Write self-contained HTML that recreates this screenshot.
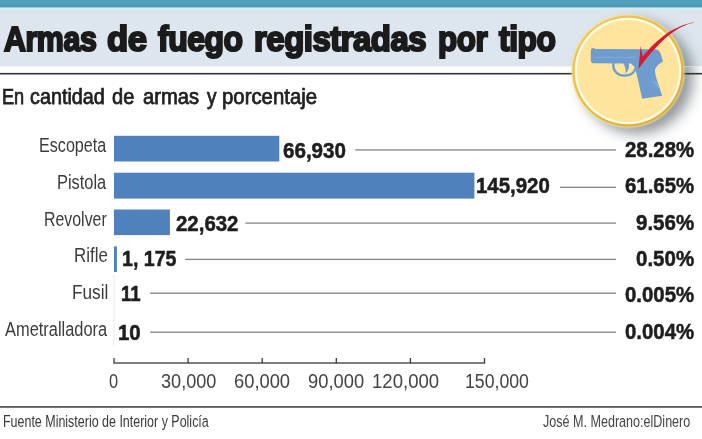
<!DOCTYPE html>
<html><head><meta charset="utf-8"><title>Armas de fuego registradas por tipo</title>
<style>
html,body{margin:0;padding:0;background:#fff;}
body{width:702px;height:439px;position:relative;overflow:hidden;font-family:"Liberation Sans",sans-serif;}
.t{position:absolute;white-space:nowrap;transform-origin:0 0;font-family:"Liberation Sans",sans-serif;}
.teal{position:absolute;left:0;top:0;width:702px;height:7px;background:linear-gradient(#4f9fbf,#4f9ebc 60%,#5296ad);}
.band{position:absolute;left:0;top:7px;width:702px;height:59px;background:#dde6ee;}
.band:before{content:"";position:absolute;left:0;top:0;width:100%;height:3px;background:linear-gradient(#6fabc2,#a6d3e4 20%,#cfeffa 42%,#d6ebf4 75%,#dde6ee);}
svg{position:absolute;left:0;top:0;}

</style></head><body>
<div class="teal"></div>
<div class="band"></div>
<svg width="702" height="439" viewBox="0 0 702 439">
<defs>
<filter id="sh" x="-40%" y="-40%" width="180%" height="180%"><feGaussianBlur stdDeviation="7"/></filter>
<filter id="gl" x="-10%" y="-10%" width="120%" height="120%"><feGaussianBlur stdDeviation="0.8"/></filter>
<linearGradient id="gd" x1="0.15" y1="0.15" x2="0.85" y2="0.85"><stop offset="0" stop-color="#f0c84c"/><stop offset="1" stop-color="#e1ae2c"/></linearGradient>
</defs>
<circle cx="637" cy="77.5" r="56" fill="#454d55" opacity="0.6" filter="url(#sh)"/>
<rect x="0" y="66" width="702" height="0.5" fill="#dde6ee"/>
<rect x="0" y="72.9" width="702" height="1.6" fill="#333"/>
<rect x="0" y="406.1" width="702" height="1.6" fill="#444"/>
<rect x="113.5" y="274" width="1" height="72" fill="#ebebeb"/>
<rect x="114.0" y="135.8" width="165.3" height="25.7" fill="#4f81bd"/>
<rect x="114.0" y="172.7" width="360.4" height="25.9" fill="#4f81bd"/>
<rect x="114.0" y="209.5" width="55.9" height="25.6" fill="#4f81bd"/>
<rect x="114.0" y="246.4" width="2.9" height="25.6" fill="#4f81bd"/>
<rect x="355.3" y="149.25" width="260.7" height="1.3" fill="#858585"/>
<rect x="560.0" y="186.65" width="56.0" height="1.3" fill="#858585"/>
<rect x="245.4" y="222.45" width="370.6" height="1.3" fill="#858585"/>
<rect x="185.2" y="258.75" width="430.8" height="1.3" fill="#858585"/>
<rect x="150.1" y="292.55" width="465.9" height="1.3" fill="#858585"/>
<rect x="150.1" y="331.55" width="465.9" height="1.3" fill="#858585"/>
<rect x="113.3" y="362.35" width="371.9" height="1.3" fill="#3a3a3a"/>
<rect x="113.35" y="358" width="1.3" height="5" fill="#3a3a3a"/>
<rect x="187.45" y="358" width="1.3" height="5" fill="#3a3a3a"/>
<rect x="261.55" y="358" width="1.3" height="5" fill="#3a3a3a"/>
<rect x="335.65" y="358" width="1.3" height="5" fill="#3a3a3a"/>
<rect x="409.75" y="358" width="1.3" height="5" fill="#3a3a3a"/>
<rect x="483.85" y="358" width="1.3" height="5" fill="#3a3a3a"/>
<circle cx="628" cy="71" r="56.4" fill="#f6e3a0" filter="url(#gl)"/>
<circle cx="628" cy="71" r="55.6" fill="url(#gd)"/>
<circle cx="628" cy="71" r="53.3" fill="#fffaea"/>
<circle cx="628" cy="71" r="51" fill="#fee49c"/>
<path d="M590.8 50.6 L591.3 48.4 L594.2 48 L595 49 L655.5 49.2 Q659.2 49.8 660.6 53.5 L663 61.4 Q657 64.5 654.9 69.5 Q655 74 656.6 79 L662.2 95.8 L642.2 98.8 L640 89 Q637.5 77 635.5 70 L634.2 66.5 L631 63.4 L592.8 63.2 Q590.8 62.6 590.8 60.8 Z" fill="#6e9cce"/>
<path d="M613.4 63 C612.6 70.5 617 75.6 624 75.6 C630.5 75.6 634.5 72.5 635.8 68" fill="none" stroke="#6e9cce" stroke-width="2.3"/>
<path d="M623.2 63 L628.6 63 C629.8 66.8 628.6 70.6 625.6 73.4 C626 69.5 625.2 66.3 623.2 63 Z" fill="#6e9cce"/>
<path d="M596 57.3 L636 57.3" stroke="#86aedb" stroke-width="0.8" fill="none"/>
<path d="M651 81.5 Q656.5 84 660.2 91.5 L657.2 81.5 Z" fill="#83aad8"/>
<path d="M640.7 46 L642.7 56.4 C644.2 54.7 648.5 49.5 651.8 46.2 C655.1 42.9 659.0 39.5 662.6 36.7 C666.2 33.9 669.7 31.7 673.4 29.6 C677.1 27.6 681.5 25.6 685.0 24.4 C688.5 23.2 692.7 22.6 694.2 22.2 L694.2 22.4 C693.0 22.8 690.1 23.3 687.0 24.6 C683.9 25.9 679.3 28.1 675.8 30.3 C672.3 32.5 669.3 34.8 666.1 37.6 C662.9 40.4 659.6 43.7 656.5 47.0 C653.4 50.3 650.2 53.8 647.2 57.4 C644.2 61.0 640.0 66.9 638.5 68.8 Z" fill="#d91832"/>
</svg>

<div class="t" style="left:3.98px;top:21.37px;font-size:35px;line-height:35px;font-weight:700;color:#1b1b1b;transform:scaleX(0.8674);-webkit-text-stroke:2.2px #1b1b1b;letter-spacing:-0.5px;">Armas</div>
<div class="t" style="left:107.42px;top:21.37px;font-size:35px;line-height:35px;font-weight:700;color:#1b1b1b;transform:scaleX(0.9888);-webkit-text-stroke:2.2px #1b1b1b;letter-spacing:-0.5px;">de</div>
<div class="t" style="left:158.01px;top:21.37px;font-size:35px;line-height:35px;font-weight:700;color:#1b1b1b;transform:scaleX(0.9128);-webkit-text-stroke:2.2px #1b1b1b;letter-spacing:-0.5px;">fuego</div>
<div class="t" style="left:253.96px;top:21.37px;font-size:35px;line-height:35px;font-weight:700;color:#1b1b1b;transform:scaleX(0.9395);-webkit-text-stroke:2.2px #1b1b1b;letter-spacing:-0.5px;">registradas</div>
<div class="t" style="left:437.51px;top:21.37px;font-size:35px;line-height:35px;font-weight:700;color:#1b1b1b;transform:scaleX(0.8954);-webkit-text-stroke:2.2px #1b1b1b;letter-spacing:-0.5px;">por</div>
<div class="t" style="left:498.50px;top:21.37px;font-size:35px;line-height:35px;font-weight:700;color:#1b1b1b;transform:scaleX(0.9080);-webkit-text-stroke:2.2px #1b1b1b;letter-spacing:-0.5px;">tipo</div>
<div class="t" style="left:2.07px;top:87.30px;font-size:21.5px;line-height:21.5px;font-weight:400;color:#222;transform:scaleX(0.8435);-webkit-text-stroke:0.75px #222;">En</div>
<div class="t" style="left:29.98px;top:87.30px;font-size:21.5px;line-height:21.5px;font-weight:400;color:#222;transform:scaleX(0.9201);-webkit-text-stroke:0.75px #222;">cantidad</div>
<div class="t" style="left:111.98px;top:87.30px;font-size:21.5px;line-height:21.5px;font-weight:400;color:#222;transform:scaleX(0.9308);-webkit-text-stroke:0.75px #222;">de</div>
<div class="t" style="left:142.98px;top:87.30px;font-size:21.5px;line-height:21.5px;font-weight:400;color:#222;transform:scaleX(0.9392);-webkit-text-stroke:0.75px #222;">armas</div>
<div class="t" style="left:206.99px;top:87.30px;font-size:21.5px;line-height:21.5px;font-weight:400;color:#222;transform:scaleX(0.8797);-webkit-text-stroke:0.75px #222;">y</div>
<div class="t" style="left:221.94px;top:87.30px;font-size:21.5px;line-height:21.5px;font-weight:400;color:#222;transform:scaleX(0.9467);-webkit-text-stroke:0.75px #222;">porcentaje</div>
<div class="t" style="left:39.39px;top:136.41px;font-size:19.6px;line-height:19.6px;font-weight:400;color:#3c3c3c;transform:scaleX(0.8231);">Escopeta</div>
<div class="t" style="left:57.36px;top:173.41px;font-size:19.6px;line-height:19.6px;font-weight:400;color:#3c3c3c;transform:scaleX(0.8362);">Pistola</div>
<div class="t" style="left:43.94px;top:210.41px;font-size:19.6px;line-height:19.6px;font-weight:400;color:#3c3c3c;transform:scaleX(0.8110);">Revolver</div>
<div class="t" style="left:74.05px;top:246.41px;font-size:19.6px;line-height:19.6px;font-weight:400;color:#3c3c3c;transform:scaleX(0.8632);">Rifle</div>
<div class="t" style="left:72.03px;top:283.41px;font-size:19.6px;line-height:19.6px;font-weight:400;color:#3c3c3c;transform:scaleX(0.8778);">Fusil</div>
<div class="t" style="left:4.53px;top:320.41px;font-size:19.6px;line-height:19.6px;font-weight:400;color:#3c3c3c;transform:scaleX(0.8381);">Ametralladora</div>
<div class="t" style="left:283.47px;top:140.38px;font-size:22px;line-height:22px;font-weight:700;color:#1e1e1e;transform:scaleX(0.9356);-webkit-text-stroke:0.55px #1e1e1e;">66,930</div>
<div class="t" style="left:476.48px;top:175.38px;font-size:22px;line-height:22px;font-weight:700;color:#1e1e1e;transform:scaleX(0.9283);-webkit-text-stroke:0.55px #1e1e1e;">145,920</div>
<div class="t" style="left:176.47px;top:213.38px;font-size:22px;line-height:22px;font-weight:700;color:#1e1e1e;transform:scaleX(0.9280);-webkit-text-stroke:0.55px #1e1e1e;">22,632</div>
<div class="t" style="left:122.02px;top:248.38px;font-size:22px;line-height:22px;font-weight:700;color:#1e1e1e;transform:scaleX(0.8900);-webkit-text-stroke:0.55px #1e1e1e;">1, 175</div>
<div class="t" style="left:121.06px;top:283.38px;font-size:22px;line-height:22px;font-weight:700;color:#1e1e1e;transform:scaleX(0.8456);-webkit-text-stroke:0.55px #1e1e1e;">11</div>
<div class="t" style="left:117.97px;top:322.38px;font-size:22px;line-height:22px;font-weight:700;color:#1e1e1e;transform:scaleX(0.9286);-webkit-text-stroke:0.55px #1e1e1e;">10</div>
<div class="t" style="left:625.47px;top:139.38px;font-size:22px;line-height:22px;font-weight:700;color:#1e1e1e;transform:scaleX(0.9265);-webkit-text-stroke:0.55px #1e1e1e;">28.28%</div>
<div class="t" style="left:625.47px;top:175.38px;font-size:22px;line-height:22px;font-weight:700;color:#1e1e1e;transform:scaleX(0.9265);-webkit-text-stroke:0.55px #1e1e1e;">61.65%</div>
<div class="t" style="left:636.46px;top:212.38px;font-size:22px;line-height:22px;font-weight:700;color:#1e1e1e;transform:scaleX(0.9318);-webkit-text-stroke:0.55px #1e1e1e;">9.56%</div>
<div class="t" style="left:636.46px;top:248.38px;font-size:22px;line-height:22px;font-weight:700;color:#1e1e1e;transform:scaleX(0.9318);-webkit-text-stroke:0.55px #1e1e1e;">0.50%</div>
<div class="t" style="left:625.47px;top:284.38px;font-size:22px;line-height:22px;font-weight:700;color:#1e1e1e;transform:scaleX(0.9265);-webkit-text-stroke:0.55px #1e1e1e;">0.005%</div>
<div class="t" style="left:625.47px;top:321.38px;font-size:22px;line-height:22px;font-weight:700;color:#1e1e1e;transform:scaleX(0.9265);-webkit-text-stroke:0.55px #1e1e1e;">0.004%</div>
<div class="t" style="left:109.05px;top:370.99px;font-size:20.1px;line-height:20.1px;font-weight:400;color:#444;transform:scaleX(0.8157);">0</div>
<div class="t" style="left:160.50px;top:370.99px;font-size:20.1px;line-height:20.1px;font-weight:400;color:#444;transform:scaleX(0.9017);">30,000</div>
<div class="t" style="left:233.99px;top:370.99px;font-size:20.1px;line-height:20.1px;font-weight:400;color:#444;transform:scaleX(0.9118);">60,000</div>
<div class="t" style="left:307.99px;top:370.99px;font-size:20.1px;line-height:20.1px;font-weight:400;color:#444;transform:scaleX(0.9134);">90,000</div>
<div class="t" style="left:372.44px;top:370.99px;font-size:20.1px;line-height:20.1px;font-weight:400;color:#444;transform:scaleX(0.9249);">120,000</div>
<div class="t" style="left:465.29px;top:370.99px;font-size:20.1px;line-height:20.1px;font-weight:400;color:#444;transform:scaleX(0.8801);">150,000</div>
<div class="t" style="left:2.97px;top:413.20px;font-size:16.3px;line-height:16.3px;font-weight:400;color:#3a3a3a;transform:scaleX(0.7656);">Fuente Ministerio de Interior y Policía</div>
<div class="t" style="left:543.49px;top:413.20px;font-size:16.3px;line-height:16.3px;font-weight:400;color:#444;transform:scaleX(0.7713);">José M. Medrano:elDinero</div>
</body></html>
